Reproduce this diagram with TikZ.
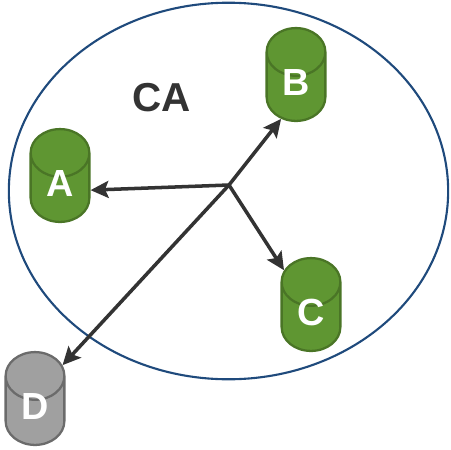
\documentclass[tikz,border=0pt]{standalone}
\usepackage{fontspec}
\setmainfont{Liberation Sans}
\usetikzlibrary{shapes.geometric,arrows.meta}
\definecolor{ringblue}{HTML}{1F4A7C}
\definecolor{arrowgray}{HTML}{333333}
\definecolor{dbgreen}{HTML}{5F9632}
\definecolor{dbgreenline}{HTML}{4A7526}
\definecolor{dbgray}{HTML}{A0A0A0}
\definecolor{dbgrayline}{HTML}{6B6B6B}
\tikzset{
	ring/.style={draw=ringblue,line width=1.2pt,ellipse,minimum width=441*0.567pt,minimum height=378*0.567pt,inner sep=0pt},
	dbtext/.style={text=white,inner sep=0pt,font=\fontsize{21.5}{24}\selectfont\bfseries},
	db/.style={cylinder,shape border rotate=90,aspect=2.25,minimum width=59*0.567pt,minimum height=92*0.567pt,inner sep=0pt,line width=1.3pt,font=\fontsize{16.7}{20}\selectfont\bfseries},
	livedb/.style={db,draw=dbgreenline,fill=dbgreen},
	deaddb/.style={db,draw=dbgrayline,fill=dbgray},
	arr/.style={-{Stealth[length=3.6mm,width=3.4mm,inset=0.7mm]},line width=2pt,draw=arrowgray}
}
\begin{document}
\begin{tikzpicture}[x=0.02cm,y=-0.02cm]
	\useasboundingbox (0,0) rectangle (450,450);
	\node[ring] (CAring) at (228.5,191) {};
	\node[font=\fontsize{23}{26}\selectfont\bfseries,text=arrowgray] (CAlabel) at (162,98) {CA};
	\foreach \n/\x/\y in {A/60/188,B/296/87,C/311/317}
		\node[livedb,label={[dbtext,yshift=2.3pt]center:\n}] (\n) at (\x,\y) {\phantom{A}};
	\node[deaddb,label={[dbtext,yshift=2.3pt]center:D}] (D) at (35,411) {\phantom{A}};
	\coordinate (hub) at (229,185);
	\draw[arr] (hub) -- (A.-4);
	\draw[arr] (hub) -- (B.-115);
	\draw[arr] (hub) -- (C.120);
	\draw[arr] (hub) -- (D.59);
\end{tikzpicture}
\end{document}
